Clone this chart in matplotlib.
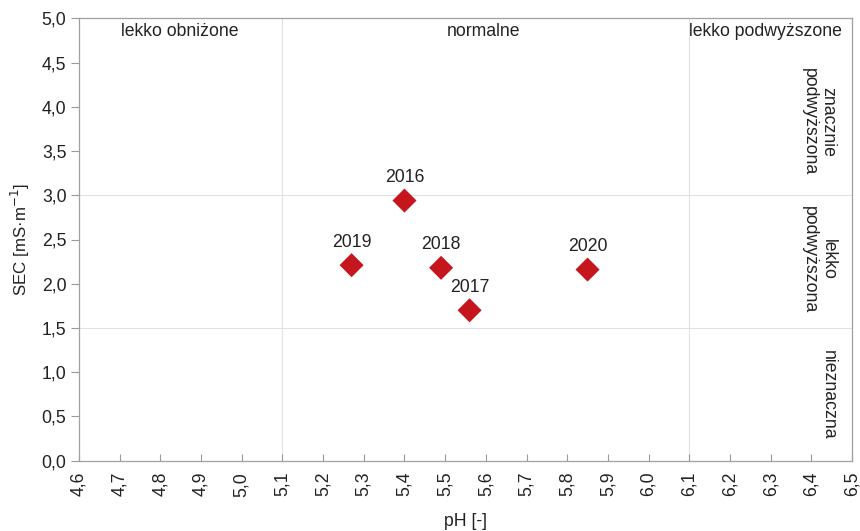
import matplotlib
matplotlib.use("Agg")
import matplotlib.pyplot as plt
from matplotlib.ticker import MultipleLocator, FuncFormatter

plt.rcParams['font.family'] = ['Liberation Sans', 'DejaVu Sans']

years = ["2016", "2017", "2018", "2019", "2020"]
ph = [5.40, 5.56, 5.49, 5.27, 5.85]
sec = [2.94, 1.70, 2.18, 2.21, 2.16]

ph_zones = ["lekko obniżone", "normalne", "lekko podwyższone"]
ph_zone_x = [4.848, 5.595, 6.288]
ph_bounds = [5.1, 6.1]

sec_zones = ["znacznie\npodwyższona", "lekko\npodwyższona", "nieznaczna"]
sec_zone_y = [3.83, 2.27, 0.75]
sec_bounds = [1.5, 3.0]

FS = 12.7

fig = plt.figure(figsize=(8.6, 5.31), dpi=100)
ax = fig.add_axes([79/860, 70.3/531, 773/860, 442.4/531])

ax.set_xlim(4.6, 6.5)
ax.set_ylim(0, 5.0)

for b in ph_bounds:
    ax.axvline(b, color='#e2e2e2', lw=0.8, zorder=0)
for b in sec_bounds:
    ax.axhline(b, color='#e2e2e2', lw=0.8, zorder=0)

ax.scatter(ph, sec, marker='D', s=150, color='#c4161c', edgecolors='none', zorder=3)
for yr, x, y in zip(years, ph, sec):
    ax.annotate(yr, (x, y), xytext=(0, 10.5), textcoords='offset points',
                ha='center', va='bottom', fontsize=FS, color='#222222')

for t, x in zip(ph_zones, ph_zone_x):
    ax.text(x, 4.855, t, ha='center', va='center', fontsize=FS, color='#222222')
for t, y in zip(sec_zones, sec_zone_y):
    ax.text(6.462, y, t, ha='right', va='center', rotation=-90,
            multialignment='center', fontsize=FS, color='#222222',
            linespacing=1.15)

ax.xaxis.set_major_locator(MultipleLocator(0.1))
ax.yaxis.set_major_locator(MultipleLocator(0.5))
fmt1 = FuncFormatter(lambda v, p: f"{v:.1f}".replace('.', ','))
ax.xaxis.set_major_formatter(fmt1)
ax.yaxis.set_major_formatter(fmt1)

ax.tick_params(axis='x', direction='in', length=5, color='#999999',
               labelrotation=90, labelsize=FS, labelcolor='#222222', pad=8)
ax.tick_params(axis='y', direction='out', length=6, color='#999999',
               labelsize=FS, labelcolor='#222222', pad=3)

for s in ax.spines.values():
    s.set_color('#a0a0a0')
    s.set_linewidth(0.9)

ax.set_xlabel("pH [-]", fontsize=FS, color='#222222', labelpad=12)
ax.set_ylabel("SEC [mS·m$^{-1}$]", fontsize=12.2, color='#222222', labelpad=7)

fig.savefig("out.png", dpi=100, facecolor='white')
